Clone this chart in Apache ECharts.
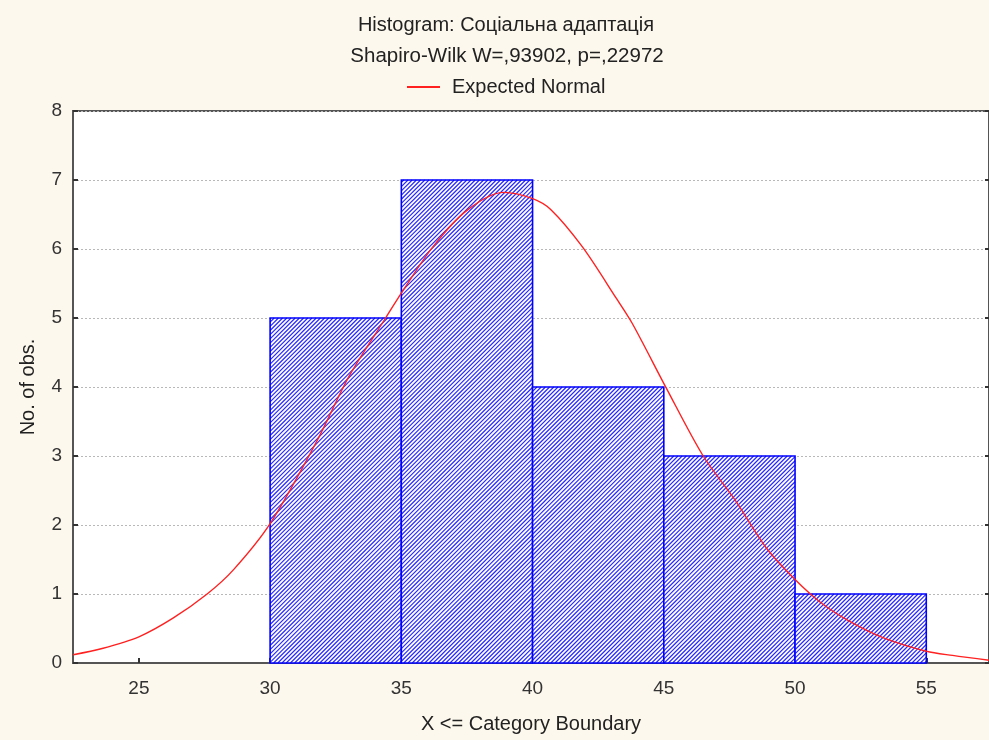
<!DOCTYPE html>
<html>
<head>
<meta charset="utf-8">
<script src="https://cdn.jsdelivr.net/npm/echarts@6/dist/echarts.min.js"></script>
<style>
html,body{margin:0;padding:0;background:#fdf8ee;}
#chart{width:989px;height:740px;}
</style>
</head>
<body>
<div id="chart"></div>
<script>
// Histogram bins (lower bound, upper bound, count)
const binStart = [30, 35, 40, 45, 50];
const binEnd   = [35, 40, 45, 50, 55];
const binCount = [5, 7, 4, 3, 1];

// Expected normal curve
const curveX = [22.5, 23.6, 25.0, 26.3, 27.6, 28.6, 30.0, 31.8, 33.0, 34.4, 35.0, 36.2, 37.5, 38.9, 40.0, 40.7, 41.9, 43.2, 43.8, 45.1, 46.5, 47.7, 48.9, 50.0, 51.0, 52.1, 53.4, 55.0, 56.0, 57.4];
const curveY = [0.12, 0.21, 0.38, 0.65, 1.0, 1.35, 2.02, 3.23, 4.15, 5.0, 5.36, 6.03, 6.56, 6.82, 6.73, 6.57, 6.03, 5.28, 4.92, 3.98, 3.0, 2.37, 1.67, 1.21, 0.87, 0.60, 0.36, 0.17, 0.11, 0.04];

const xTicks = [25, 30, 35, 40, 45, 50, 55];
const yTicks = [0, 1, 2, 3, 4, 5, 6, 7, 8];

const titleText = 'Histogram: Соціальна адаптація';
const subText = 'Shapiro-Wilk W=,93902, p=,22972';
const legendName = 'Expected Normal';
const xName = 'X <= Category Boundary';
const yName = 'No. of obs.';

const HATCH_STEP = 4.2;

const histData = binStart.map(function (s, i) { return [s, binEnd[i], binCount[i]]; });
const curveData = curveX.map(function (x, i) { return [x, curveY[i]]; });

const FONT = 'Liberation Sans, Arial, sans-serif';
const chart = echarts.init(document.getElementById('chart'), null, { renderer: 'canvas' });
chart.setOption({
  backgroundColor: '#fdf8ee',
  animation: false,
  textStyle: { fontFamily: FONT },
  graphic: [
    { type: 'text', x: 506, y: 25, silent: true,
      style: { text: titleText, font: '20px ' + FONT, fill: '#222', align: 'center', verticalAlign: 'middle' } },
    { type: 'text', x: 507, y: 56, silent: true,
      style: { text: subText, font: '20.5px ' + FONT, fill: '#222', align: 'center', verticalAlign: 'middle' } }
  ],
  legend: {
    top: 72, left: 402,
    icon: 'rect', itemWidth: 33, itemHeight: 2, itemGap: 10,
    textStyle: { fontSize: 20, color: '#222', padding: [0, 0, 0, 7] },
    data: [legendName]
  },
  grid: {
    left: 73, right: -3, top: 111, bottom: 77,
    show: true, backgroundColor: '#ffffff', borderColor: '#555', borderWidth: 2
  },
  xAxis: {
    type: 'value', min: 22.49, max: 57.39,
    name: xName, nameLocation: 'middle', nameGap: 51,
    nameTextStyle: { fontSize: 20, color: '#222' },
    axisLine: { show: true, lineStyle: { color: '#555', width: 2 } },
    axisTick: { show: true, inside: true, length: 5, customValues: xTicks, lineStyle: { color: '#333', width: 2 } },
    axisLabel: { customValues: xTicks, fontSize: 19, color: '#333', margin: 16 },
    splitLine: { show: false }
  },
  yAxis: [{
    type: 'value', min: 0, max: 8, interval: 1,
    name: yName, nameLocation: 'middle', nameGap: 35, nameRotate: 90,
    nameTextStyle: { fontSize: 20, color: '#222' },
    axisLine: { show: true, lineStyle: { color: '#555', width: 2 } },
    axisTick: { show: true, inside: true, length: 5, lineStyle: { color: '#333', width: 2 } },
    axisLabel: { fontSize: 19, color: '#333', margin: 11 },
    splitLine: { show: true, lineStyle: { color: '#b8b8b8', type: [2, 2], width: 1 } }
  }, {
    type: 'value', min: 0, max: 8, interval: 1, position: 'right', offset: 2,
    axisLine: { show: false },
    axisTick: { show: true, inside: true, length: 6, lineStyle: { color: '#333', width: 2 } },
    axisLabel: { show: false },
    splitLine: { show: false }
  }],
  series: [{
    type: 'custom',
    name: 'hist',
    data: histData,
    encode: { x: [0, 1], y: 2 },
    renderItem: function (params, api) {
      const p0 = api.coord([api.value(0), api.value(2)]);
      const p1 = api.coord([api.value(1), 0]);
      const x0 = p0[0], y0 = p0[1], x1 = p1[0], y1 = p1[1];
      const children = [{
        type: 'rect',
        shape: { x: x0, y: y0, width: x1 - x0, height: y1 - y0 },
        style: { fill: '#ffffff', stroke: null }
      }];
      // diagonal "///" hatch lines: x + y = k
      const kStart = Math.ceil((x0 + y0) / HATCH_STEP) * HATCH_STEP;
      for (let k = kStart; k < x1 + y1; k += HATCH_STEP) {
        const ax = Math.max(x0, k - y1), bx = Math.min(x1, k - y0);
        if (bx <= ax) continue;
        children.push({
          type: 'line',
          shape: { x1: ax, y1: k - ax, x2: bx, y2: k - bx },
          style: { stroke: '#2525ff', lineWidth: 1.15 }
        });
      }
      children.push({
        type: 'rect',
        shape: { x: x0, y: y0, width: x1 - x0, height: y1 - y0 },
        style: { fill: null, stroke: '#0000ff', lineWidth: 1.6 }
      });
      return { type: 'group', children: children };
    },
    z: 2
  }, {
    type: 'line',
    name: legendName,
    data: curveData,
    smooth: 0.3,
    showSymbol: false,
    symbol: 'none',
    color: '#ff2020',
    lineStyle: { color: '#ff2020', width: 1.4 },
    z: 3
  }]
});
</script>
</body>
</html>
